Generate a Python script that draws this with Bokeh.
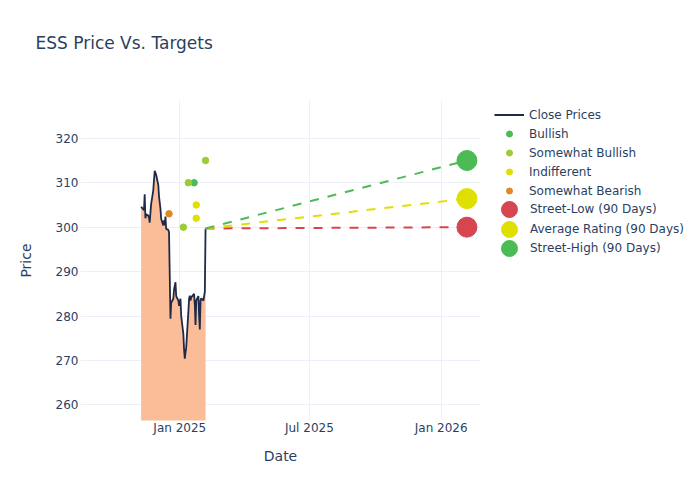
import pandas as pd
from bokeh.plotting import figure
from bokeh.layouts import row
from bokeh.models import (Range1d, FixedTicker, Legend, LegendItem,
                          ColumnDataSource, Title)
from bokeh.embed import file_html
from bokeh.resources import INLINE

# ---------------- data ----------------
holidays = ["2024-11-28", "2024-12-25", "2025-01-01", "2025-01-09", "2025-01-20"]
trade_dates = [d for d in pd.bdate_range("2024-11-08", "2025-02-06")
               if d.strftime("%Y-%m-%d") not in holidays]

close_prices = [
    # Nov 2024
    304.6, 304.0, 303.8, 307.4, 302.0, 302.9, 302.6, 302.2, 301.0, 303.2,
    305.2, 308.3, 310.6, 312.7, 311.8,
    # Dec 2024
    309.5, 307.0, 305.5, 304.2, 301.9, 300.4, 301.5, 300.4, 302.4, 299.6,
    299.4, 298.8, 289.0, 279.4, 283.0, 283.9, 286.0, 287.6, 284.5, 283.5,
    282.3,
    # Jan 2025
    283.9, 280.0, 276.0, 272.5, 270.4, 273.0, 281.0, 283.9, 284.6, 283.5,
    284.2, 285.0, 282.5, 278.0, 283.5, 284.5, 280.0, 277.0, 283.5, 284.0,
    # Feb 2025
    283.5, 284.5, 285.5, 299.7,
]

analyst_dates = ["2024-12-17", "2025-01-06", "2025-01-13", "2025-01-21",
                 "2025-01-24", "2025-01-24", "2025-02-06"]
analyst_targets = [303, 300, 310, 310, 305, 302, 315]
analyst_ratings = ["Somewhat Bearish", "Somewhat Bullish", "Somewhat Bullish",
                   "Bullish", "Indifferent", "Indifferent", "Somewhat Bullish"]

rating_order = ["Bullish", "Somewhat Bullish", "Indifferent", "Somewhat Bearish"]
rating_colors = {"Bullish": "#4CBB55", "Somewhat Bullish": "#9ACD32",
                 "Indifferent": "#E0E000", "Somewhat Bearish": "#DD8A1E"}

target_date = "2026-02-06"
street_low = min(analyst_targets)
street_high = max(analyst_targets)
avg_rating = sum(analyst_targets) / len(analyst_targets)

x_ticks = ["2025-01-01", "2025-07-01", "2026-01-01"]
x_tick_labels = ["Jan 2025", "Jul 2025", "Jan 2026"]
y_ticks = [260, 270, 280, 290, 300, 310, 320]

# ---------------- style ----------------
TXT = "#2a3f5f"
GRID = "#EBF0F8"
FONT = "DejaVu Sans"
LINE_C = "#1F2A48"
FILL_C = "#FBBD98"
RED, YEL, GRN = "#D64550", "#E0E000", "#4CBB55"


def ms(s):
    return pd.Timestamp(s).value // 10**6


last_date = trade_dates[-1]
last_close = close_prices[-1]
tgt_dt = pd.Timestamp(target_date)

src = ColumnDataSource(dict(date=trade_dates, close=close_prices,
                            base=[0] * len(close_prices)))
rating_src = {}
for rating in rating_order:
    xs = [pd.Timestamp(d) for d, r in zip(analyst_dates, analyst_ratings) if r == rating]
    ys = [t for t, r in zip(analyst_targets, analyst_ratings) if r == rating]
    rating_src[rating] = (xs, ys)
summary = [("Street-Low (90 Days)", street_low, RED),
           ("Average Rating (90 Days)", avg_rating, YEL),
           ("Street-High (90 Days)", street_high, GRN)]

# ---------------- main figure ----------------
p = figure(frame_width=400, frame_height=320,
           min_border_left=80, min_border_right=0,
           min_border_top=100, min_border_bottom=80,
           x_axis_type="datetime", output_backend="svg",
           toolbar_location=None,
           x_range=Range1d(ms("2024-08-15 09:00"), ms("2026-02-24 22:00")),
           y_range=Range1d(256.5, 328.5))
p.outline_line_color = None
p.background_fill_color = "white"
p.border_fill_color = "white"

# spacer between frame and title (innermost), then the title itself
p.add_layout(Title(text=" ", text_font=FONT, text_font_size="12px",
                   standoff=27), "above")
p.add_layout(Title(text="ESS Price Vs. Targets", align="left", offset=-45,
                   standoff=10, text_font=FONT, text_font_size="17px",
                   text_font_style="normal", text_color=TXT), "above")

p.varea(x="date", y1="base", y2="close", source=src,
        fill_color=FILL_C, fill_alpha=1.0)
p.line(x="date", y="close", source=src, line_color=LINE_C, line_width=1.8)

for label, val, col in summary:
    p.line(x=[last_date, tgt_dt], y=[last_close, val],
           line_color=col, line_width=2, line_dash="9 9")

for rating in rating_order:
    xs, ys = rating_src[rating]
    p.scatter(x=xs, y=ys, size=6.5, fill_color=rating_colors[rating],
              line_color=rating_colors[rating])

for label, val, col in summary:
    p.scatter(x=[tgt_dt], y=[val], size=20, fill_color=col, line_color=col)

# axes
xa = p.xaxis[0]
ya = p.yaxis[0]
xa.ticker = FixedTicker(ticks=[ms(t) for t in x_ticks])
xa.major_label_overrides = {float(ms(t)): lab for t, lab in zip(x_ticks, x_tick_labels)}
ya.ticker = FixedTicker(ticks=y_ticks)
for ax in (xa, ya):
    ax.axis_line_color = None
    ax.major_tick_line_color = None
    ax.minor_tick_line_color = None
    ax.major_tick_out = 0
    ax.major_tick_in = 0
    ax.major_label_text_font = FONT
    ax.major_label_text_font_size = "12px"
    ax.major_label_text_color = TXT
    ax.axis_label_text_font = FONT
    ax.axis_label_text_font_size = "14px"
    ax.axis_label_text_color = TXT
    ax.axis_label_text_font_style = "normal"
xa.axis_label = "Date"
ya.axis_label = "Price"
xa.major_label_standoff = 0
ya.major_label_standoff = 2
xa.axis_label_standoff = 10
ya.axis_label_standoff = 19

p.xgrid.grid_line_color = GRID
p.ygrid.grid_line_color = GRID

# ---------------- legend panel ----------------
# Same data drawn again, but outside this panel's view: only the legend shows.
lp = figure(width=220, height=500, min_border=0, output_backend="svg",
            toolbar_location=None, x_axis_type=None, y_axis_type=None,
            x_range=Range1d(0, 1), y_range=Range1d(0, 1))
lp.outline_line_color = None
lp.grid.visible = False
lp.background_fill_color = "white"
lp.border_fill_color = "white"

lr_close = lp.line(x="date", y="close", source=src, line_color=LINE_C, line_width=2)
lr_rating = {}
for rating in rating_order:
    xs, ys = rating_src[rating]
    lr_rating[rating] = lp.scatter(x=xs, y=ys, fill_color=rating_colors[rating],
                                   line_color=rating_colors[rating])
lr_summary = [lp.scatter(x=[tgt_dt], y=[val], fill_color=col, line_color=col)
              for label, val, col in summary]


def add_legend(items, loc, gw, gh, standoff):
    lg = Legend(items=items, location=loc, orientation="vertical",
                glyph_width=gw, glyph_height=gh, label_height=19,
                spacing=0, padding=0, margin=0, label_standoff=standoff,
                border_line_alpha=0, background_fill_alpha=0,
                label_text_font=FONT, label_text_font_size="12px",
                label_text_color=TXT)
    lp.add_layout(lg)


# locations are measured from the bottom-left of the (row-aligned) frame
add_legend([LegendItem(label="Close Prices", renderers=[lr_close])] +
           [LegendItem(label=r, renderers=[lr_rating[r]]) for r in rating_order],
           (14, 220), 30, 15, 5)
for (label, val, col), rr, vy in zip(summary, lr_summary, [191, 171, 152]):
    add_legend([LegendItem(label=label, renderers=[rr])], (9, vy), 40, 40, 1)

layout = row(p, lp)
open("out.html", "w").write(file_html(layout, INLINE))
